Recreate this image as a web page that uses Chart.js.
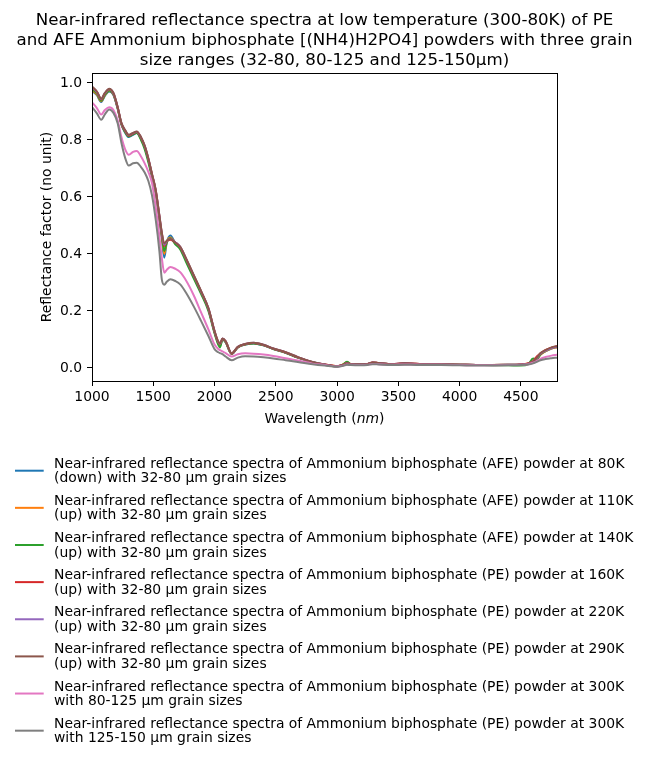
<!DOCTYPE html>
<html>
<head>
<meta charset="utf-8">
<script src="https://cdn.jsdelivr.net/npm/chart.js@4"></script>
<style>
  html, body { margin: 0; padding: 0; background: #fff; }
  #wrap { width: 649px; height: 761px; position: relative; }
</style>
</head>
<body>
<div id="wrap"><canvas id="c" width="649" height="761"></canvas></div>
<script>
const titleLines = [
  "Near-infrared reflectance spectra at low temperature (300-80K) of PE",
  "and AFE Ammonium biphosphate [(NH4)H2PO4] powders with three grain",
  "size ranges (32-80, 80-125 and 125-150µm)"
];
const xTicks = [1000, 1500, 2000, 2500, 3000, 3500, 4000, 4500];
const yTicks = [0.0, 0.2, 0.4, 0.6, 0.8, 1.0];

const wavelengths = [1000,1040,1075,1105,1140,1175,1210,1240,1270,1300,
  1335,1365,1400,1430,1460,1490,1520,1550,1570,1590,
  1610,1640,1680,1720,1770,1830,1890,1950,2000,2030,
  2045,2065,2090,2140,2190,2250,2320,2400,2480,2580,
  2680,2800,2900,3000,3050,3080,3110,3180,3250,3290,
  3340,3450,3550,3600,3700,3850,4000,4200,4400,4500,
  4560,4600,4630,4660,4700,4750,4795];

const afe80K = [0.972,0.957,0.933,0.955,0.970,0.958,0.909,0.854,0.826,0.810,
  0.818,0.824,0.804,0.774,0.729,0.674,0.618,0.524,0.455,0.387,
  0.440,0.465,0.437,0.420,0.376,0.320,0.265,0.205,0.125,0.087,
  0.079,0.100,0.091,0.049,0.072,0.082,0.086,0.079,0.066,0.053,
  0.036,0.019,0.011,0.005,0.010,0.016,0.013,0.012,0.013,0.018,
  0.016,0.013,0.015,0.014,0.013,0.012,0.011,0.010,0.011,0.012,
  0.015,0.021,0.030,0.047,0.058,0.068,0.073];
const afe110K = [0.975,0.960,0.936,0.957,0.973,0.960,0.911,0.856,0.830,0.814,
  0.822,0.826,0.806,0.776,0.731,0.676,0.620,0.528,0.460,0.400,
  0.442,0.458,0.438,0.421,0.377,0.321,0.266,0.206,0.126,0.088,
  0.080,0.101,0.092,0.050,0.073,0.083,0.087,0.080,0.067,0.054,
  0.037,0.020,0.012,0.006,0.012,0.021,0.014,0.012,0.014,0.019,
  0.017,0.013,0.017,0.015,0.013,0.012,0.011,0.010,0.011,0.012,
  0.016,0.020,0.030,0.046,0.058,0.068,0.073];
const afe140K = [0.980,0.963,0.938,0.958,0.974,0.960,0.910,0.855,0.828,0.812,
  0.820,0.824,0.800,0.768,0.722,0.668,0.612,0.522,0.462,0.410,
  0.440,0.455,0.434,0.416,0.370,0.314,0.260,0.200,0.122,0.082,
  0.072,0.100,0.090,0.049,0.072,0.082,0.086,0.079,0.066,0.053,
  0.036,0.020,0.011,0.005,0.012,0.022,0.014,0.012,0.014,0.018,
  0.016,0.013,0.015,0.014,0.013,0.012,0.011,0.010,0.009,0.008,
  0.013,0.033,0.030,0.048,0.060,0.070,0.074];
const pe160K = [0.985,0.968,0.942,0.963,0.978,0.963,0.913,0.858,0.832,0.815,
  0.822,0.828,0.808,0.778,0.733,0.678,0.622,0.532,0.470,0.428,
  0.444,0.450,0.440,0.424,0.380,0.324,0.268,0.208,0.128,0.090,
  0.084,0.102,0.093,0.050,0.073,0.083,0.087,0.080,0.067,0.054,
  0.037,0.020,0.012,0.006,0.011,0.017,0.013,0.012,0.014,0.019,
  0.017,0.013,0.016,0.015,0.013,0.012,0.011,0.010,0.010,0.012,
  0.016,0.024,0.040,0.050,0.062,0.071,0.076];
const pe220K = [0.986,0.969,0.944,0.964,0.979,0.964,0.914,0.859,0.834,0.817,
  0.824,0.829,0.809,0.779,0.734,0.679,0.624,0.534,0.472,0.432,
  0.445,0.453,0.441,0.425,0.381,0.325,0.269,0.209,0.129,0.092,
  0.085,0.103,0.094,0.051,0.074,0.084,0.088,0.081,0.068,0.055,
  0.038,0.021,0.012,0.006,0.010,0.016,0.013,0.012,0.014,0.019,
  0.017,0.013,0.016,0.015,0.013,0.012,0.011,0.010,0.011,0.012,
  0.015,0.022,0.034,0.050,0.060,0.070,0.075];
const pe290K = [0.988,0.970,0.945,0.965,0.980,0.965,0.915,0.860,0.835,0.818,
  0.825,0.830,0.810,0.780,0.735,0.680,0.625,0.535,0.475,0.437,
  0.446,0.452,0.440,0.425,0.382,0.326,0.270,0.210,0.130,0.093,
  0.086,0.103,0.094,0.051,0.074,0.084,0.088,0.081,0.068,0.055,
  0.038,0.021,0.012,0.006,0.010,0.016,0.013,0.012,0.014,0.019,
  0.017,0.013,0.016,0.015,0.013,0.012,0.011,0.010,0.011,0.012,
  0.015,0.022,0.035,0.052,0.062,0.072,0.077];
const pe300K_80_125 = [0.932,0.912,0.889,0.905,0.915,0.905,0.868,0.810,0.768,0.748,
  0.758,0.761,0.742,0.718,0.688,0.648,0.565,0.462,0.385,0.334,
  0.344,0.354,0.348,0.336,0.305,0.255,0.195,0.135,0.082,0.066,
  0.062,0.058,0.052,0.040,0.048,0.051,0.050,0.047,0.042,0.034,
  0.026,0.015,0.010,0.005,0.008,0.012,0.011,0.010,0.011,0.014,
  0.013,0.011,0.012,0.012,0.011,0.011,0.010,0.009,0.010,0.011,
  0.013,0.018,0.024,0.032,0.038,0.043,0.046];
const pe300K_125_150 = [0.915,0.893,0.871,0.890,0.907,0.895,0.858,0.790,0.738,0.710,
  0.718,0.720,0.705,0.686,0.656,0.605,0.520,0.410,0.310,0.292,
  0.302,0.311,0.305,0.293,0.262,0.216,0.165,0.112,0.066,0.055,
  0.052,0.048,0.040,0.027,0.036,0.041,0.040,0.037,0.033,0.027,
  0.021,0.013,0.008,0.004,0.007,0.011,0.010,0.009,0.010,0.013,
  0.012,0.010,0.011,0.011,0.010,0.010,0.009,0.008,0.009,0.010,
  0.012,0.016,0.021,0.027,0.031,0.034,0.036];

const seriesLabels = [
  ["Near-infrared reflectance spectra of Ammonium biphosphate (AFE) powder at 80K", "(down) with 32-80 µm grain sizes"],
  ["Near-infrared reflectance spectra of Ammonium biphosphate (AFE) powder at 110K", "(up) with 32-80 µm grain sizes"],
  ["Near-infrared reflectance spectra of Ammonium biphosphate (AFE) powder at 140K", "(up) with 32-80 µm grain sizes"],
  ["Near-infrared reflectance spectra of Ammonium biphosphate (PE) powder at 160K", "(up) with 32-80 µm grain sizes"],
  ["Near-infrared reflectance spectra of Ammonium biphosphate (PE) powder at 220K", "(up) with 32-80 µm grain sizes"],
  ["Near-infrared reflectance spectra of Ammonium biphosphate (PE) powder at 290K", "(up) with 32-80 µm grain sizes"],
  ["Near-infrared reflectance spectra of Ammonium biphosphate (PE) powder at 300K", "with 80-125 µm grain sizes"],
  ["Near-infrared reflectance spectra of Ammonium biphosphate (PE) powder at 300K", "with 125-150 µm grain sizes"]
];
const seriesValues = [afe80K, afe110K, afe140K, pe160K, pe220K, pe290K, pe300K_80_125, pe300K_125_150];
const seriesColors = ["#1f77b4", "#ff7f0e", "#2ca02c", "#d62728", "#9467bd", "#8c564b", "#e377c2", "#7f7f7f"];

const FONT = "'DejaVu Sans', 'Liberation Sans', sans-serif";

const datasets = seriesValues.map((vals, i) => ({
  label: seriesLabels[i].join(" "),
  data: wavelengths.map((w, j) => ({ x: w, y: vals[j] })),
  borderColor: seriesColors[i],
  backgroundColor: seriesColors[i],
  borderWidth: 2,
  pointRadius: 0,
  fill: false,
  cubicInterpolationMode: 'monotone',
  order: seriesValues.length - 1 - i
}));

const decorPlugin = {
  id: 'decor',
  afterDraw(chart) {
    const ctx = chart.ctx;
    const a = chart.chartArea;
    ctx.save();
    // frame (top & right spines)
    ctx.strokeStyle = '#000';
    ctx.lineWidth = 1;
    ctx.strokeRect(Math.round(a.left) + 0.5, Math.round(a.top) + 0.5,
      Math.round(a.right - a.left), Math.round(a.bottom - a.top));
    // title
    ctx.fillStyle = '#000';
    ctx.textAlign = 'center';
    ctx.textBaseline = 'alphabetic';
    ctx.font = "16.67px " + FONT;
    const cx = (a.left + a.right) / 2;
    const baselines = [24.5, 44.5, 64.5];
    titleLines.forEach((t, i) => ctx.fillText(t, cx, baselines[i]));
    // x axis title with italic unit
    ctx.font = "13.9px " + FONT;
    const p1 = "Wavelength (", p3 = ")";
    const fontIt = "italic 13.9px " + FONT;
    const w1 = ctx.measureText(p1).width;
    const w3 = ctx.measureText(p3).width;
    ctx.font = fontIt;
    const w2 = ctx.measureText("nm").width;
    let x0 = cx - (w1 + w2 + w3) / 2;
    const yb = 423;
    ctx.textAlign = 'left';
    ctx.font = "13.9px " + FONT;
    ctx.fillText(p1, x0, yb);
    ctx.font = fontIt;
    ctx.fillText("nm", x0 + w1, yb);
    ctx.font = "13.9px " + FONT;
    ctx.fillText(p3, x0 + w1 + w2, yb);
    // legend
    const step = 37.14;
    chart.data.datasets.forEach((ds, i) => {
      const yh = 470.7 + step * i;
      ctx.strokeStyle = ds.borderColor;
      ctx.lineWidth = 2;
      ctx.beginPath();
      ctx.moveTo(15, yh);
      ctx.lineTo(43.7, yh);
      ctx.stroke();
      ctx.fillStyle = '#000';
      ctx.font = "13.9px " + FONT;
      ctx.textAlign = 'left';
      const lines = seriesLabels[i];
      ctx.fillText(lines[0], 54, yh - 3);
      ctx.fillText(lines[1], 54, yh + 11.6);
    });
    ctx.restore();
  }
};

new Chart(document.getElementById('c'), {
  type: 'line',
  data: { datasets },
  options: {
    responsive: false,
    animation: false,
    events: [],
    layout: { padding: { left: 0, top: 73, right: 92, bottom: 332 } },
    plugins: { legend: { display: false }, title: { display: false }, tooltip: { enabled: false } },
    scales: {
      x: {
        type: 'linear',
        min: 1000,
        max: 4795,
        afterFit(s) { s.height = 48; },
        afterBuildTicks(s) { s.ticks = xTicks.map(v => ({ value: v })); },
        ticks: {
          color: '#000',
          font: { family: FONT, size: 13.9 },
          padding: 3,
          maxRotation: 0,
          autoSkip: false,
          callback: v => String(v)
        },
        grid: { display: true, drawOnChartArea: false, drawTicks: true, tickLength: 5, color: '#000', tickWidth: 1 },
        border: { display: true, color: '#000', width: 1 },
        title: { display: false }
      },
      y: {
        type: 'linear',
        min: -0.046,
        max: 1.035,
        afterFit(s) { s.width = 92; },
        afterBuildTicks(s) { s.ticks = yTicks.map(v => ({ value: v })); },
        ticks: {
          color: '#000',
          font: { family: FONT, size: 13.9 },
          padding: 5,
          autoSkip: false,
          callback: v => Number(v).toFixed(1)
        },
        grid: { display: true, drawOnChartArea: false, drawTicks: true, tickLength: 5, color: '#000', tickWidth: 1 },
        border: { display: true, color: '#000', width: 1 },
        title: {
          display: true,
          text: 'Reflectance factor (no unit)',
          color: '#000',
          font: { family: FONT, size: 13.9, lineHeight: 1.2 },
          padding: { top: 38.6, bottom: 0 }
        }
      }
    }
  },
  plugins: [decorPlugin]
});
</script>
</body>
</html>
